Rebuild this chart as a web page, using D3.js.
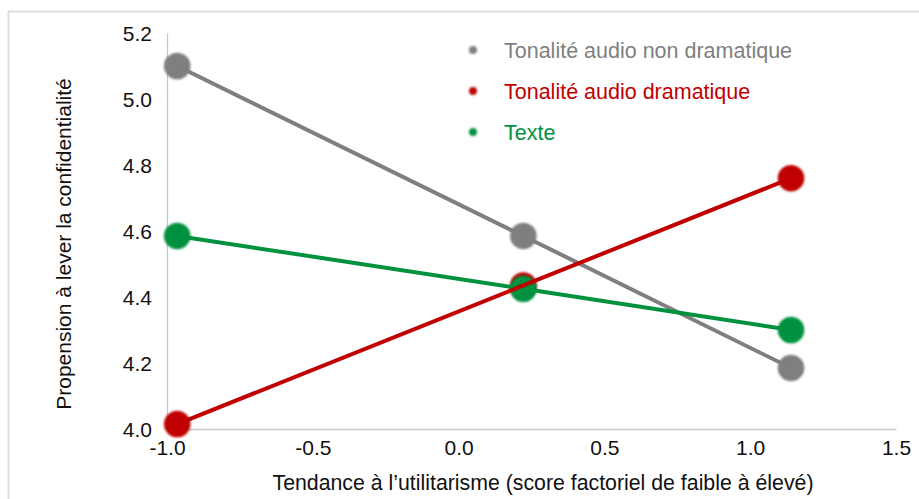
<!DOCTYPE html>
<html>
<head>
<meta charset="utf-8">
<script src="https://cdn.jsdelivr.net/npm/d3@7"></script>
<style>
  body { margin: 0; background: #fff; }
  svg { display: block; font-family: 'Liberation Sans', Arial, sans-serif; }
</style>
</head>
<body>
<div class="chart"></div>
<script>
'use strict';

// data
const xValues = [-0.965, 0.222, 1.14];
const seriesNames = ['Tonalité audio non dramatique', 'Tonalité audio dramatique', 'Texte'];
const nonDramatique = [5.10, 4.585, 4.185];
const dramatique = [4.015, 4.435, 4.76];
const texte = [4.585, 4.425, 4.30];
const colors = ['#7f7f7f', '#c00000', '#00913f'];
const xTicks = [-1.0, -0.5, 0.0, 0.5, 1.0, 1.5];
const yTicks = [4.0, 4.2, 4.4, 4.6, 4.8, 5.0, 5.2];

const series = [nonDramatique, dramatique, texte].map((vals, i) => ({
  name: seriesNames[i],
  color: colors[i],
  points: vals.map((v, j) => ({ x: xValues[j], y: v }))
}));

const FULL_WIDTH = 919;
const FULL_HEIGHT = 499;
const margin = { top: 33, right: 23, bottom: 70, left: 167 };
const WIDTH = FULL_WIDTH - margin.left - margin.right;
const HEIGHT = FULL_HEIGHT - margin.top - margin.bottom;
const FONT = "'Liberation Sans', Arial, sans-serif";

const root = d3.select('.chart')
  .append('svg')
    .attr('width', FULL_WIDTH)
    .attr('height', FULL_HEIGHT);

root.append('defs')
  .append('filter')
    .attr('id', 'soft')
    .attr('x', '-50%').attr('y', '-50%')
    .attr('width', '200%').attr('height', '200%')
  .append('feGaussianBlur')
    .attr('stdDeviation', 1.3);

// outer frame
root.append('rect')
  .attr('x', 8.5)
  .attr('y', 11.5)
  .attr('width', FULL_WIDTH)
  .attr('height', FULL_HEIGHT)
  .attr('fill', 'none')
  .attr('stroke', '#dedede')
  .attr('stroke-width', 2);

const svg = root.append('g')
  .attr('transform', 'translate(' + margin.left + ',' + margin.top + ')');

const x = d3.scaleLinear()
  .domain([-1.0, 1.5])
  .range([0, WIDTH]);

const y = d3.scaleLinear()
  .domain([4.0, 5.2])
  .range([HEIGHT, 0]);

// axes
const xAxis = svg.append('g')
  .attr('transform', 'translate(0,' + HEIGHT + ')')
  .call(d3.axisBottom(x).tickValues(xTicks).tickSize(0).tickPadding(11).tickFormat(d3.format('.1f')));

const yAxis = svg.append('g')
  .call(d3.axisLeft(y).tickValues(yTicks).tickSize(0).tickPadding(15).tickFormat(d3.format('.1f')));

[xAxis, yAxis].forEach((g) => {
  g.select('.domain').attr('stroke', '#c8c8c8').attr('stroke-width', 1.3);
  g.selectAll('text')
    .attr('font-size', '21px')
    .attr('fill', '#111')
    .attr('font-family', FONT);
});
xAxis.selectAll('text').text((d) => d3.format('.1f')(d).replace('−', '-'));
yAxis.selectAll('text').attr('dy', '0.36em');

// axis titles
svg.append('text')
  .attr('x', 543 - margin.left)
  .attr('y', HEIGHT + 61)
  .attr('text-anchor', 'middle')
  .attr('font-size', '21.3px')
  .attr('fill', '#111')
  .text('Tendance à l’utilitarisme (score factoriel de faible à élevé)');

svg.append('text')
  .attr('transform', 'translate(' + (71 - margin.left) + ',' + (244 - margin.top) + ') rotate(-90)')
  .attr('text-anchor', 'middle')
  .attr('font-size', '21px')
  .attr('fill', '#111')
  .text('Propension à lever la confidentialité');

const line = d3.line()
  .x((d) => x(d.x))
  .y((d) => y(d.y));

// markers
series.forEach((s) => {
  svg.selectAll(null)
    .data(s.points)
    .enter()
    .append('circle')
    .attr('cx', (d) => x(d.x))
    .attr('cy', (d) => y(d.y))
    .attr('r', 13.3)
    .attr('fill', s.color)
    .attr('filter', 'url(#soft)');
});

// lines
[0, 2, 1].forEach((i) => {
  svg.append('path')
    .datum(series[i].points)
    .attr('d', line)
    .attr('fill', 'none')
    .attr('stroke', series[i].color)
    .attr('stroke-width', 4);
});

// legend
const legend = svg.selectAll('.legend')
  .data(series)
  .enter()
  .append('g')
  .attr('class', 'legend')
  .attr('transform', (d, i) => 'translate(' + (473 - margin.left) + ',' + (50 - margin.top + i * 41) + ')');

legend.append('circle')
  .attr('r', 4)
  .attr('fill', (d) => d.color)
  .attr('filter', 'url(#soft)');

legend.append('text')
  .attr('x', 31)
  .attr('dy', '0.35em')
  .attr('font-size', '21.5px')
  .attr('fill', (d) => d.color)
  .text((d) => d.name);
</script>
</body>
</html>
